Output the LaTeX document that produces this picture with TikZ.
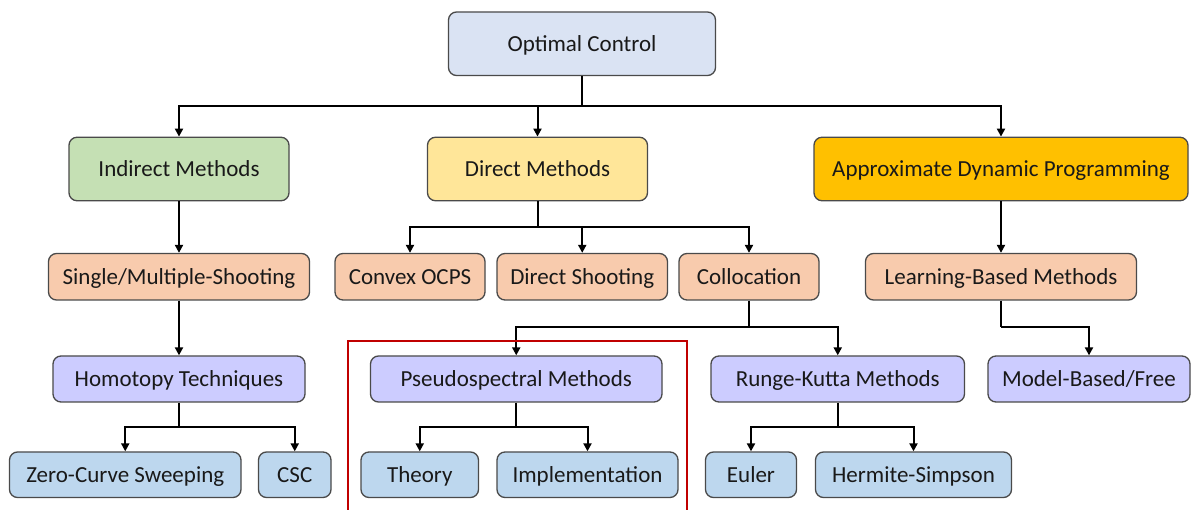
\documentclass[tikz,border=0pt]{standalone}
\usepackage{fontspec}
\setmainfont{Carlito}
\usetikzlibrary{arrows.meta}
\definecolor{cOC}{HTML}{DAE3F3}
\definecolor{cGreen}{HTML}{C5E0B4}
\definecolor{cYellow}{HTML}{FFE699}
\definecolor{cGold}{HTML}{FFC000}
\definecolor{cPeach}{HTML}{F8CBAD}
\definecolor{cLav}{HTML}{CCCCFF}
\definecolor{cBlue}{HTML}{BDD7EE}
\definecolor{cBorder}{HTML}{4A4A4A}
\definecolor{cRed}{HTML}{C00000}
\begin{document}
\begin{tikzpicture}[x=1pt,y=-1pt,
  box/.style={draw=cBorder, line width=1.3pt, rounded corners=8pt, inner sep=0pt,
    font=\fontsize{23}{27}\selectfont, text=black!90, anchor=center,
    text height=15pt, text depth=0pt},
  big/.style={box, minimum height=63.5pt},
  mid/.style={box, minimum height=46.5pt},
  conn/.style={draw=black, line width=2pt, -{Triangle[length=8pt,width=8pt]}},
  line/.style={draw=black, line width=2pt}]
\useasboundingbox (0,0) rectangle (1192,510);
\fill[white] (0,0) rectangle (1192,510);
% level 0
\node[big, fill=cOC, minimum width=267pt] (oc) at (582,43.75) {Optimal Control};
% level 1
\node[big, fill=cGreen, minimum width=220pt] (ind) at (179,169) {Indirect Methods};
\node[big, fill=cYellow, minimum width=220pt] (dir) at (537.5,169) {Direct Methods};
\node[big, fill=cGold, minimum width=374pt] (adp) at (1001,169) {Approximate Dynamic Programming};
% level 2
\node[mid, fill=cPeach, minimum width=261pt] (sms) at (179,276.75) {Single/Multiple-Shooting};
\node[mid, fill=cPeach, minimum width=150pt] (cvx) at (410,276.75) {Convex OCPS};
\node[mid, fill=cPeach, minimum width=170.5pt] (dsh) at (582.25,276.75) {Direct Shooting};
\node[mid, fill=cPeach, minimum width=140pt] (col) at (749,276.75) {Collocation};
\node[mid, fill=cPeach, minimum width=271pt] (lbm) at (1001,276.75) {Learning-Based Methods};
% level 3
\node[mid, fill=cLav, minimum width=252pt, minimum height=46pt] (hom) at (179,379) {Homotopy Techniques};
\node[mid, fill=cLav, minimum width=291.5pt, minimum height=46pt] (psm) at (516.25,379) {Pseudospectral Methods};
\node[mid, fill=cLav, minimum width=253.5pt, minimum height=46pt] (rk) at (837.75,379) {Runge-Kutta Methods};
\node[mid, fill=cLav, minimum width=202pt, minimum height=46pt] (mbf) at (1089,379) {Model-Based/Free};
% level 4
\node[mid, fill=cBlue, minimum width=231.5pt, minimum height=45.5pt] (zcs) at (125.25,474.75) {Zero-Curve Sweeping};
\node[mid, fill=cBlue, minimum width=72.5pt, minimum height=45.5pt] (csc) at (294.75,474.75) {CSC};
\node[mid, fill=cBlue, minimum width=117.5pt, minimum height=45.5pt] (thy) at (419.75,474.75) {Theory};
\node[mid, fill=cBlue, minimum width=181pt, minimum height=45.5pt] (imp) at (587.5,474.75) {Implementation};
\node[mid, fill=cBlue, minimum width=91pt, minimum height=45.5pt] (eul) at (751,474.75) {Euler};
\node[mid, fill=cBlue, minimum width=196pt, minimum height=45.5pt] (hs) at (913.5,474.75) {Hermite-Simpson};
% junctions
\coordinate (j0) at (582,106);
\coordinate (j1) at (537.5,227.3);
\coordinate (j2) at (749,327.5);
\coordinate (j3) at (1001,327.5);
\coordinate (j4) at (179,426.7);
\coordinate (j5) at (516.25,426.7);
\coordinate (j6) at (837.75,426.7);
% connectors
\draw[line] (oc.south) -- (j0);
\draw[conn] (j0) -| (ind.north);
\draw[conn] (j0) -| (dir.north);
\draw[conn] (j0) -| (adp.north);
\draw[conn] (ind.south) -- (sms.north);
\draw[conn] (adp.south) -- (lbm.north);
\draw[line] (dir.south) -- (j1);
\draw[conn] (j1) -| (cvx.north);
\draw[conn] (j1) -| (dsh.north);
\draw[conn] (j1) -| (col.north);
\draw[conn] (sms.south) -- (hom.north);
\draw[line] (col.south) -- (j2);
\draw[conn] (j2) -| (psm.north);
\draw[conn] (j2) -| (rk.north);
\draw[line] (lbm.south) -- (j3);
\draw[conn] (j3) -| (mbf.north);
\draw[line] (hom.south) -- (j4);
\draw[conn] (j4) -| (zcs.north);
\draw[conn] (j4) -| (csc.north);
\draw[line] (psm.south) -- (j5);
\draw[conn] (j5) -| (thy.north);
\draw[conn] (j5) -| (imp.north);
\draw[line] (rk.south) -- (j6);
\draw[conn] (j6) -| (eul.north);
\draw[conn] (j6) -| (hs.north);
% highlight frame
\draw[cRed, line width=2pt] (348,512) -- (348,341) -- (687,341) -- (687,512);
\end{tikzpicture}
\end{document}
